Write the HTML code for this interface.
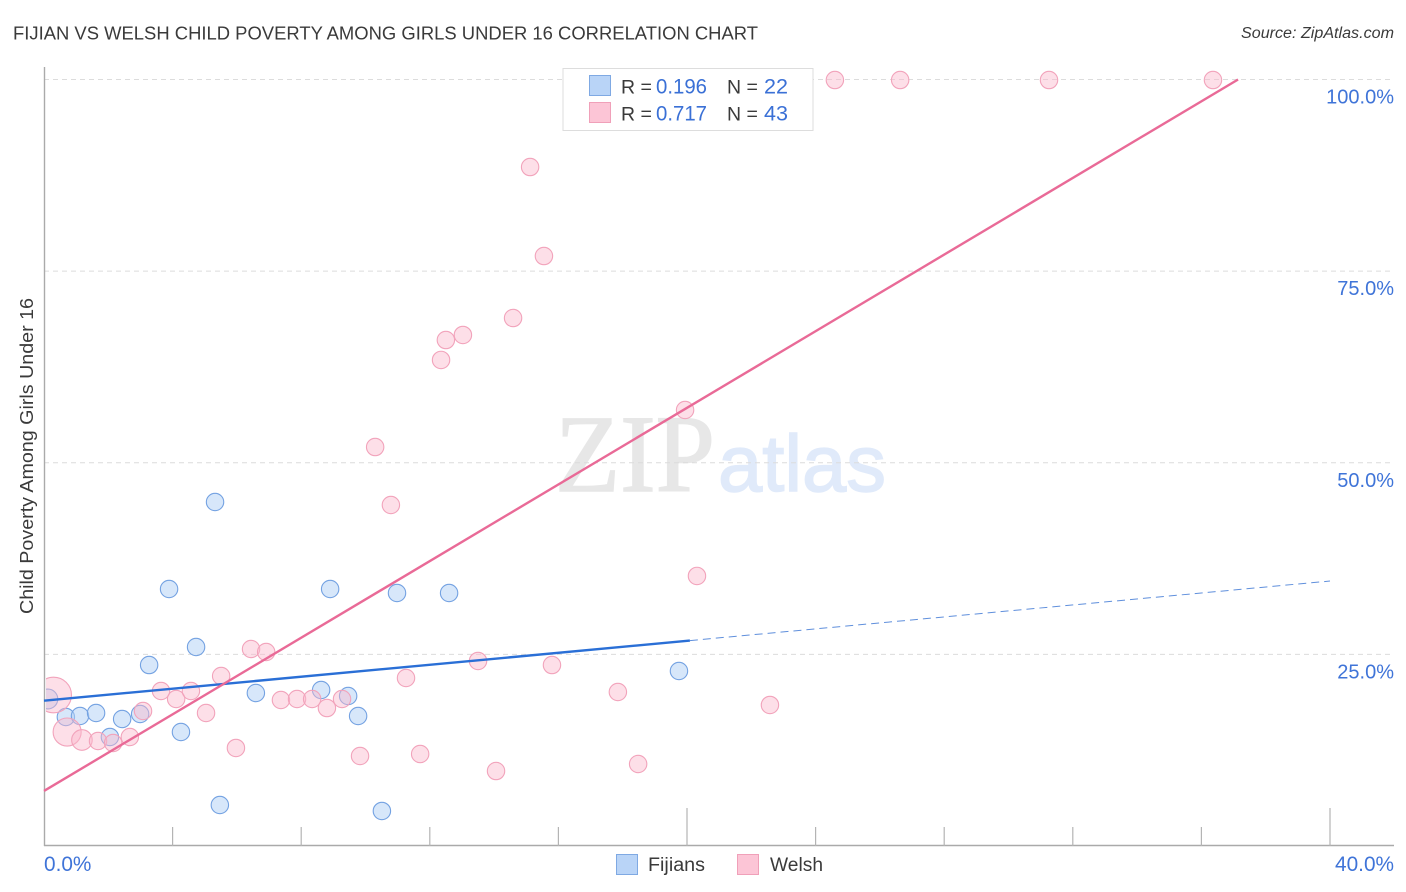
<!DOCTYPE html>
<html lang="en">
<head>
<meta charset="utf-8">
<title>Fijian vs Welsh Child Poverty Among Girls Under 16 Correlation Chart</title>
<style>
  html, body { margin: 0; padding: 0; background: #fff; }
  svg { display: block; font-family: "Liberation Sans", sans-serif; }
</style>
</head>
<body>
<svg id="chart" xmlns="http://www.w3.org/2000/svg" width="1406" height="892" viewBox="0 0 1406 892">
  <rect x="0" y="0" width="1406" height="892" fill="#ffffff"></rect>

  <text x="13" y="39.5" font-size="18.6" fill="#3a3a3a" textLength="745" lengthAdjust="spacingAndGlyphs">FIJIAN VS WELSH CHILD POVERTY AMONG GIRLS UNDER 16 CORRELATION CHART</text>
  <text x="1394" y="38" font-size="15.5" font-style="italic" fill="#3a3a3a" text-anchor="end" textLength="153" lengthAdjust="spacingAndGlyphs">Source: ZipAtlas.com</text>

  <g>
    <text x="555" y="491" font-family="'Liberation Serif', serif" font-size="110" fill="#e7e7e7" stroke="#e7e7e7" stroke-width="1.5" textLength="160" lengthAdjust="spacingAndGlyphs">ZIP</text>
    <text x="718" y="491" font-size="80" fill="#e0eafa" stroke="#e0eafa" stroke-width="1.5" textLength="168" lengthAdjust="spacingAndGlyphs">atlas</text>
  </g>

  <g id="grid"></g>
  <svg id="points" x="46" y="60" width="1350" height="786" viewBox="46 60 1350 786" overflow="hidden"></svg>
  <rect x="28" y="660" width="18" height="90" fill="#ffffff"></rect>
  <g id="axes"></g>
  <g id="trends"></g>
  <g id="labels"></g>

  <text transform="translate(33,456) rotate(-90)" font-size="18" fill="#3a3a3a" text-anchor="middle" textLength="316" lengthAdjust="spacingAndGlyphs">Child Poverty Among Girls Under 16</text>

  <g>
    <rect x="563" y="68.5" width="250" height="62" fill="#ffffff" stroke="#dddddd" stroke-width="1"></rect>
    <rect x="589.5" y="75.5" width="21" height="20" fill="#b9d4f7" stroke="#7fa9e3"></rect>
    <rect x="589.5" y="102.5" width="21" height="20" fill="#fcc5d6" stroke="#f0a0b9"></rect>
    <text x="621" y="93.5" font-size="19.5" fill="#3a3a3a">R =</text>
    <text x="656" y="93.5" font-size="21" fill="#3a70d6" textLength="51" lengthAdjust="spacingAndGlyphs">0.196</text>
    <text x="727" y="93.5" font-size="19.5" fill="#3a3a3a">N =</text>
    <text x="764" y="93.5" font-size="21" fill="#3a70d6" textLength="24" lengthAdjust="spacingAndGlyphs">22</text>
    <text x="621" y="120.5" font-size="19.5" fill="#3a3a3a">R =</text>
    <text x="656" y="120.5" font-size="21" fill="#3a70d6" textLength="51" lengthAdjust="spacingAndGlyphs">0.717</text>
    <text x="727" y="120.5" font-size="19.5" fill="#3a3a3a">N =</text>
    <text x="764" y="120.5" font-size="21" fill="#3a70d6" textLength="24" lengthAdjust="spacingAndGlyphs">43</text>
  </g>

  <g>
    <rect x="616.5" y="854.5" width="21" height="20" fill="#b9d4f7" stroke="#7fa9e3"></rect>
    <text x="648" y="871" font-size="19" fill="#3a3a3a" textLength="57" lengthAdjust="spacingAndGlyphs">Fijians</text>
    <rect x="737.5" y="854.5" width="21" height="20" fill="#fcc5d6" stroke="#f0a0b9"></rect>
    <text x="770" y="871" font-size="19" fill="#3a3a3a" textLength="53" lengthAdjust="spacingAndGlyphs">Welsh</text>
  </g>
</svg>

<script>
const fijianX = [0.12,0.68,1.12,1.62,2.43,2.99,2.05,3.27,4.26,3.89,4.73,5.32,5.47,6.59,8.62,8.90,9.46,9.77,10.98,12.60,10.51,19.75];
const fijianY = [19.18,16.83,16.96,17.35,16.57,17.22,14.22,23.61,14.87,33.53,25.96,44.88,5.35,19.96,20.35,33.53,19.57,16.96,33.01,33.01,4.57,22.83];
const fijianWeight = [1.3,1,1,1,1,1,1,1,1,1,1,1,1,1,1,1,1,1,1,1,1,1];
const welshX = [0.30,0.72,1.18,1.68,2.15,2.67,3.08,3.64,4.11,4.57,5.04,5.51,5.97,6.44,6.91,7.37,7.87,8.34,8.80,9.27,9.83,10.30,10.79,11.26,11.70,12.35,12.50,13.03,13.50,14.06,14.59,15.12,15.55,15.80,17.85,18.48,19.94,20.31,22.58,24.60,26.63,31.26,36.36];
const welshY = [19.70,14.87,13.83,13.70,13.44,14.22,17.61,20.22,19.18,20.22,17.35,22.18,12.79,25.70,25.31,19.05,19.18,19.18,18.00,19.18,11.74,52.05,44.49,21.92,12.00,63.41,66.01,66.67,24.14,9.78,68.88,88.58,76.97,23.61,20.09,10.70,56.88,35.23,18.40,99.93,99.93,99.93,99.93];
const welshWeight = [4.2,2.6,1.4,1,1,1,1,1,1,1,1,1,1,1,1,1,1,1,1,1,1,1,1,1,1,1,1,1,1,1,1,1,1,1,1,1,1,1,1,1,1,1,1];
const fijianTrendX = [0,20.09];
const fijianTrendY = [18.96,26.80];
const fijianExtensionX = [20.09,40];
const fijianExtensionY = [26.80,34.57];
const welshTrendX = [0,37.14];
const welshTrendY = [7.18,100];
const yTicks = [100,75,50,25];
const yTickLabels = ["100.0%","75.0%","50.0%","25.0%"];
const xTicks = [4,8,12,16,20,24,28,32,36,40];
const xMajorTicks = [20,40];
const xEndTicks = [0,40];
const xEndLabels = ["0.0%","40.0%"];

const SVG_NS = "http://www.w3.org/2000/svg";
function xScale(v) { return 44 + v * 32.15; }
function yScale(v) { return 846 - v * 7.665; }
function rScale(w) { return 8.7 * Math.sqrt(w); }
function make(parent, tag, attrs) {
  const el = document.createElementNS(SVG_NS, tag);
  for (const k in attrs) el.setAttribute(k, attrs[k]);
  parent.appendChild(el);
  return el;
}

const grid = document.getElementById("grid");
const axes = document.getElementById("axes");
const points = document.getElementById("points");
const trends = document.getElementById("trends");
const labels = document.getElementById("labels");

yTicks.forEach(function (t) {
  const el = make(grid, "line", { x1: 44, x2: 1394, y1: yScale(t), y2: yScale(t), stroke: "#dcdcdc", "stroke-width": 1, "stroke-dasharray": "5 4" });
  
  
});

const yAxis = make(axes, "line", { x1: 44.5, x2: 44.5, y1: 67, y2: 846, stroke: "#aaaaaa", "stroke-width": 1.4 });


const xAxis = make(axes, "line", { x1: 44, x2: 1394, y1: 845.5, y2: 845.5, stroke: "#aaaaaa", "stroke-width": 1.4 });



xTicks.forEach(function (t) {
  const top = xMajorTicks.indexOf(t) >= 0 ? 808 : 827;
  const el = make(axes, "line", { x1: xScale(t), x2: xScale(t), y1: top, y2: 846, stroke: "#b4b4b4", "stroke-width": 1.2 });
  
  
});

fijianX.forEach(function (x, i) {
  const el = make(points, "circle", { cx: xScale(x), cy: yScale(fijianY[i]), r: rScale(fijianWeight[i]), fill: "rgba(176,208,245,0.5)", stroke: "#74a2e2", "stroke-width": 1.1 });
  
  
});

welshX.forEach(function (x, i) {
  const el = make(points, "circle", { cx: xScale(x), cy: yScale(welshY[i]), r: rScale(welshWeight[i]), fill: "rgba(250,185,205,0.45)", stroke: "#f2a3bb", "stroke-width": 1.1 });
  
  
});

const fijianLine = make(trends, "line", { x1: xScale(fijianTrendX[0]), y1: yScale(fijianTrendY[0]), x2: xScale(fijianTrendX[1]), y2: yScale(fijianTrendY[1]), stroke: "#2a6fd6", "stroke-width": 2.4 });


const fijianDash = make(trends, "line", { x1: xScale(fijianExtensionX[0]), y1: yScale(fijianExtensionY[0]), x2: xScale(fijianExtensionX[1]), y2: yScale(fijianExtensionY[1]), stroke: "#5f8fdc", "stroke-width": 1, "stroke-dasharray": "8 5" });


const welshLine = make(trends, "line", { x1: xScale(welshTrendX[0]), y1: yScale(welshTrendY[0]), x2: xScale(welshTrendX[1]), y2: yScale(welshTrendY[1]), stroke: "#e96a97", "stroke-width": 2.4 });



yTicks.forEach(function (t, i) {
  const el = make(labels, "text", { x: 1394, y: yScale(t) + 24, "font-size": 20, fill: "#3f74d8", "text-anchor": "end" });
  el.textContent = yTickLabels[i];
  
  
});

xEndTicks.forEach(function (t, i) {
  const el = make(labels, "text", { x: i === 0 ? 44 : 1394, y: 871, "font-size": 20.8, fill: "#3f74d8", "text-anchor": i === 0 ? "start" : "end" });
  el.textContent = xEndLabels[i];
  
  
});
</script>
</body>
</html>
